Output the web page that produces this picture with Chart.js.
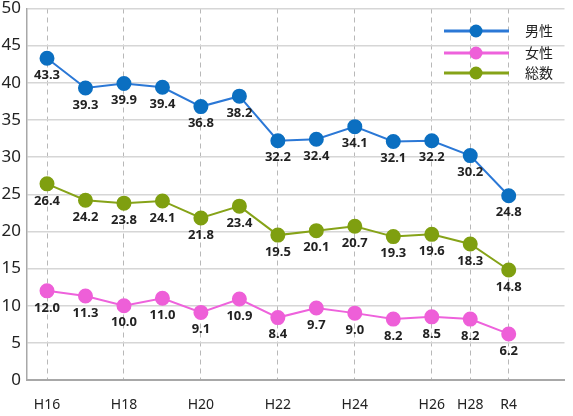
<!DOCTYPE html>
<html>
<head>
<meta charset="utf-8">
<script src="https://cdn.jsdelivr.net/npm/chart.js@4"></script>
<style>
  html, body { margin: 0; padding: 0; background: #fff; }
  #chart { display: block; }
</style>
</head>
<body>
<canvas id="chart" width="573" height="416"></canvas>
<script>
const years = ["H16", "H17", "H18", "H19", "H20", "H21", "H22", "H23", "H24", "H25", "H26", "H28", "R4"];
const tickLabels = ["H16", "", "H18", "", "H20", "", "H22", "", "H24", "", "H26", "H28", "R4"];
const male = [43.3, 39.3, 39.9, 39.4, 36.8, 38.2, 32.2, 32.4, 34.1, 32.1, 32.2, 30.2, 24.8];
const female = [12.0, 11.3, 10.0, 11.0, 9.1, 10.9, 8.4, 9.7, 9.0, 8.2, 8.5, 8.2, 6.2];
const total = [26.4, 24.2, 23.8, 24.1, 21.8, 23.4, 19.5, 20.1, 20.7, 19.3, 19.6, 18.3, 14.8];

const series = [
  { label: "男性", values: male, line: "#2b78d6", point: "#0b6fc1" },
  { label: "女性", values: female, line: "#ee62dc", point: "#ee5fd8" },
  { label: "総数", values: total, line: "#86a318", point: "#7f9f10" }
];

// value labels under each point
const valueLabels = {
  id: "valueLabels",
  afterDatasetsDraw(chart) {
    const ctx = chart.ctx;
    ctx.save();
    ctx.font = "bold 13px 'Noto Sans', sans-serif";
    ctx.fillStyle = "#222";
    ctx.textAlign = "center";
    ctx.textBaseline = "middle";
    chart.data.datasets.forEach((ds, i) => {
      chart.getDatasetMeta(i).data.forEach((pt, j) => {
        ctx.fillText(ds.data[j].y.toFixed(1), pt.x, pt.y + 17);
      });
    });
    ctx.restore();
  }
};

// legend in the top right corner, line with a dot in the middle
const lineLegend = {
  id: "lineLegend",
  afterDraw(chart) {
    const ctx = chart.ctx;
    const rows = [31, 53, 73];
    ctx.save();
    series.forEach((s, i) => {
      const y = rows[i];
      ctx.strokeStyle = s.line;
      ctx.lineWidth = 3;
      ctx.beginPath();
      ctx.moveTo(444, y);
      ctx.lineTo(509, y);
      ctx.stroke();
      ctx.fillStyle = s.point;
      ctx.beginPath();
      ctx.arc(476, y, 6.5, 0, Math.PI * 2);
      ctx.fill();
      ctx.fillStyle = "#222";
      ctx.font = "14px 'Noto Sans CJK JP', sans-serif";
      ctx.textAlign = "left";
      ctx.textBaseline = "middle";
      ctx.fillText(s.label, 525, y);
    });
    ctx.restore();
  }
};

new Chart(document.getElementById("chart"), {
  type: "line",
  data: {
    datasets: series.map((s) => ({
      label: s.label,
      data: s.values.map((v, i) => ({ x: i, y: v })),
      borderColor: s.line,
      backgroundColor: s.point,
      pointBackgroundColor: s.point,
      pointBorderColor: s.point,
      borderWidth: 2,
      pointRadius: 6.5,
      tension: 0
    }))
  },
  options: {
    responsive: false,
    animation: false,
    layout: { padding: { top: 5, right: 3, left: 0, bottom: 0 } },
    plugins: { legend: { display: false }, tooltip: { enabled: false } },
    scales: {
      x: {
        type: "linear",
        min: -0.52,
        max: 13.45,
        afterBuildTicks: (scale) => { scale.ticks = years.map((_, i) => ({ value: i })); },
        afterFit: (scale) => { scale.height = 36; scale.paddingLeft = 0; scale.paddingRight = 0; },
        ticks: {
          autoSkip: false,
          maxRotation: 0,
          padding: 17,
          color: "#222",
          font: { family: "'Noto Sans', sans-serif", size: 14 },
          callback: (value) => tickLabels[value] || ""
        },
        grid: {
          drawTicks: false,
          lineWidth: 1,
          color: (c) => (c.tick && tickLabels[c.tick.value] ? "#b8b8b8" : "rgba(0,0,0,0)")
        },
        border: { display: true, color: "#a8a8a8", width: 2, dash: [5, 4] }
      },
      y: {
        min: 0,
        max: 50,
        afterFit: (scale) => { scale.width = 27; scale.paddingTop = 0; scale.paddingBottom = 0; },
        ticks: {
          stepSize: 5,
          padding: 6,
          color: "#222",
          font: { family: "'Noto Sans', sans-serif", size: 17 }
        },
        grid: { drawTicks: false, color: "#d6d6d6", lineWidth: 1.5 },
        border: { display: true, color: "#a8a8a8", width: 1.5 }
      }
    }
  },
  plugins: [valueLabels, lineLegend]
});
</script>
</body>
</html>
